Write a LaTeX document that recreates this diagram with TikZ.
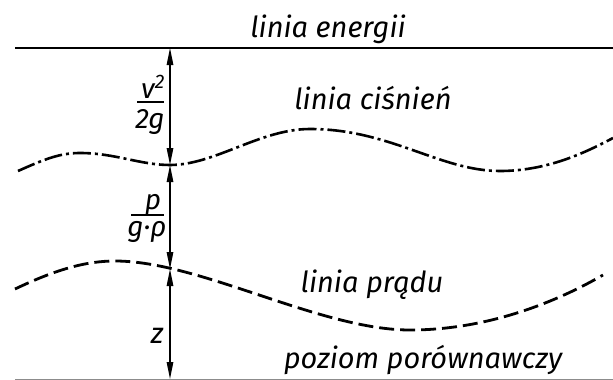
\documentclass[tikz,border=0pt]{standalone}
\usepackage{fontspec}
\setmainfont{Fira Sans}
\usetikzlibrary{arrows.meta}
\begin{document}
\begin{tikzpicture}[x=1pt,y=-1pt,
  lbl/.style={font=\fontsize{29}{33}\selectfont\itshape, inner sep=0pt, anchor=base},
  fr/.style={font=\fontsize{28}{32}\selectfont\itshape, inner sep=0pt, anchor=base},
  frbar/.style={line width=1.6pt},
  dimline/.style={line width=1.2pt, {Triangle[length=17pt,width=6.5pt]}-{Triangle[length=17pt,width=6.5pt]}},
  energy/.style={line width=2pt},
  pressure/.style={line width=2.6pt, dash pattern=on 18pt off 4pt on 3pt off 4pt},
  stream/.style={line width=2.8pt, dash pattern=on 15pt off 6pt},
  datum/.style={line width=1pt, black!45}]
\useasboundingbox (0,0) rectangle (613,380);
\fill[white] (0,0) rectangle (613,380);
% reference points on the axis
\coordinate (E) at (170,48);
\coordinate (P) at (170,165);
\coordinate (S) at (170,269);
\coordinate (D) at (170,379);
\coordinate (EL) at (15,48);
\coordinate (ER) at (613,48);
\coordinate (DL) at (15,379);
\coordinate (DR) at (613,379);
% lines
\draw[energy] (EL) -- (ER);
\draw[datum] (DL) -- (DR);
\draw[pressure] (18,171) .. controls (45,159) and (60,153) .. (80,153)
  .. controls (115,153) and (140,165) .. (P)
  .. controls (215,165) and (260,129) .. (310,129)
  .. controls (390,129) and (440,171) .. (500,171)
  .. controls (550,171) and (590,150) .. (613,138);
\draw[stream] (15,289) .. controls (55,270) and (85,261) .. (115,261)
  .. controls (200,261) and (320,330) .. (410,330)
  .. controls (490,330) and (560,300) .. (603,275);
% dimension arrows
\draw[dimline] (E) -- (P);
\draw[dimline] (P) -- (S);
\draw[dimline] (S) -- (D);
% labels
\node[lbl] (tE) at (328,37) {linia energii};
\node[lbl] (tP) at (373,109) {linia ciśnień};
\node[lbl] (tS) at (372,292) {linia prądu};
\node[lbl] (tD) at (423,368) {poziom porównawczy};
% fractions
\node[fr] (v2) at (153,98) {v\textsuperscript{2}};
\draw[frbar] (137,102) -- (164,102);
\node[fr] (g2) at (150,128) {2g};
\node[fr] (pn) at (153,209) {p};
\draw[frbar] (131,215) -- (164,215);
\node[fr] (gr) at (147,236) {g·ρ};
\node[lbl] (fz) at (157,343) {z};
\end{tikzpicture}
\end{document}
